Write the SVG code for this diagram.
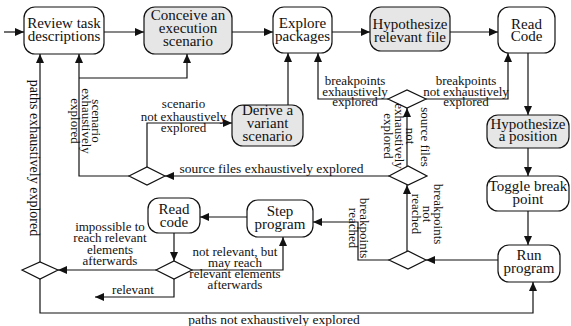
<svg xmlns="http://www.w3.org/2000/svg" width="571" height="326" viewBox="0 0 571 326">
<defs>
<marker id="ah" markerUnits="userSpaceOnUse" markerWidth="10" markerHeight="8" refX="9" refY="4" orient="auto"><path d="M0,0 L9,4 L0,8 Z" fill="#111"/></marker>
<style>
.box{fill:#fff;stroke:#111;stroke-width:1.2}
.gray{fill:#e6e6e6}
.dia{fill:#fff;stroke:#111;stroke-width:1.2}
.nt{font-family:"Liberation Serif","Times New Roman",serif;font-size:15px;fill:#111;text-anchor:middle}
.lb{font-family:"Liberation Serif","Times New Roman",serif;font-size:13px;fill:#111;text-anchor:middle}
.c{fill:none;stroke:#111;stroke-width:1.2;marker-end:url(#ah)}
</style>
</defs>
<rect width="571" height="326" fill="#fff"/>
<g id="connectors">
<path class="c" d="M4,32 H24"/>
<path class="c" d="M104,32 H144"/>
<path class="c" d="M232,32 H273"/>
<path class="c" d="M332,32 H370"/>
<path class="c" d="M450,32 H498"/>
<path class="c" d="M528,53 V115"/>
<path class="c" d="M528,148 V176"/>
<path class="c" d="M528,211 V245"/>
<path class="c" d="M498,260 H426"/>
<path class="c" d="M407,251 V185"/>
<path class="c" d="M407,166 V108"/>
<path class="c" d="M388,99 H318 V53"/>
<path class="c" d="M426,99 H508 V53"/>
<path class="c" d="M389,176 H165"/>
<path class="c" d="M147,167 V123 H232"/>
<path class="c" d="M288,105 V53"/>
<path class="c" d="M129,176 H79 V54"/>
<path class="c" d="M79,78 H187 V54"/>
<path class="c" d="M389,260 H358 V222 H313"/>
<path class="c" d="M247,217 H200"/>
<path class="c" d="M174,233 V261"/>
<path class="c" d="M192,270 H283 V237"/>
<path class="c" d="M156,270 H58"/>
<path class="c" d="M174,279 V297 H95"/>
<path class="c" d="M40,262 V54"/>
<path class="c" d="M40,279 V313 H533 V282"/>
</g>
<g id="review"><rect class="box" x="24" y="7" width="80" height="47" rx="11"/><text class="nt" x="64" y="28">Review task</text><text class="nt" x="64" y="41">descriptions</text></g>
<g id="conceive"><rect class="box gray" x="144" y="7" width="88" height="47" rx="11"/><text class="nt" x="188" y="20">Conceive an</text><text class="nt" x="188" y="33">execution</text><text class="nt" x="188" y="46">scenario</text></g>
<g id="explore"><rect class="box" x="273" y="7" width="59" height="46" rx="11"/><text class="nt" x="302.5" y="28">Explore</text><text class="nt" x="302.5" y="41">packages</text></g>
<g id="hypfile"><rect class="box gray" x="370" y="7" width="80" height="44" rx="11"/><text class="nt" x="410" y="29">Hypothesize</text><text class="nt" x="410" y="42">relevant file</text></g>
<g id="readcode1"><rect class="box" x="498" y="7" width="57" height="46" rx="11"/><text class="nt" x="526.5" y="29">Read</text><text class="nt" x="526.5" y="41">Code</text></g>
<g id="derive"><rect class="box gray" x="232" y="105" width="71" height="41" rx="11"/><text class="nt" x="267.5" y="115">Derive a</text><text class="nt" x="267.5" y="128">variant</text><text class="nt" x="267.5" y="141">scenario</text></g>
<g id="hyppos"><rect class="box gray" x="487" y="115" width="82" height="33" rx="11"/><text class="nt" x="528" y="129">Hypothesize</text><text class="nt" x="528" y="141">a position</text></g>
<g id="toggle"><rect class="box" x="487" y="176" width="82" height="35" rx="11"/><text class="nt" x="528" y="191">Toggle break</text><text class="nt" x="528" y="204">point</text></g>
<g id="run"><rect class="box" x="498" y="245" width="62" height="37" rx="11"/><text class="nt" x="529" y="260">Run</text><text class="nt" x="529" y="273">program</text></g>
<g id="step"><rect class="box" x="247" y="200" width="66" height="37" rx="11"/><text class="nt" x="280" y="216">Step</text><text class="nt" x="280" y="229">program</text></g>
<g id="readcode2"><rect class="box" x="148" y="198" width="52" height="35" rx="11"/><text class="nt" x="174" y="214">Read</text><text class="nt" x="174" y="227">code</text></g>
<g id="d-scenario"><path class="dia" d="M129,176 L147,167 L165,176 L147,185 Z"/></g>
<g id="d-bp"><path class="dia" d="M388,99 L407,90 L426,99 L407,108 Z"/></g>
<g id="d-src"><path class="dia" d="M389,176 L408,166 L427,176 L408,185 Z"/></g>
<g id="d-reached"><path class="dia" d="M389,260 L408,251 L426,260 L408,269 Z"/></g>
<g id="d-relevant"><path class="dia" d="M156,270 L174,261 L192,270 L174,279 Z"/></g>
<g id="d-paths"><path class="dia" d="M22,270 L40,262 L58,270 L40,279 Z"/></g>
<g id="labels">
<text class="lb" x="183.5" y="108">scenario</text><text class="lb" x="183.5" y="121">not exhaustively</text><text class="lb" x="183.5" y="132">explored</text>
<text class="lb" x="271.5" y="173" style="font-size:13.5px">source files exhaustively explored</text>
<text class="lb" x="355" y="85">breakpoints</text><text class="lb" x="355" y="96">exhaustively</text><text class="lb" x="355" y="106">explored</text>
<text class="lb" x="466" y="85">breakpoints</text><text class="lb" x="466" y="96">not exhaustively</text><text class="lb" x="466" y="106">explored</text>
<text class="lb" transform="translate(29.5,158) rotate(90)" style="font-size:14px">paths exhaustively explored</text>
<text class="lb" transform="translate(92,121) rotate(90)">scenario</text>
<text class="lb" transform="translate(81.5,121) rotate(90)">exhaustively</text>
<text class="lb" transform="translate(71,121) rotate(90)">explored</text>
<text class="lb" transform="translate(420.5,137) rotate(90)">source files</text>
<text class="lb" transform="translate(405.5,136) rotate(90)">not</text>
<text class="lb" transform="translate(394.5,136) rotate(90)">exhaustively</text>
<text class="lb" transform="translate(383.5,136) rotate(90)">explored</text>
<text class="lb" transform="translate(433.5,214) rotate(90)">breakpoints</text>
<text class="lb" transform="translate(422.5,214) rotate(90)">not</text>
<text class="lb" transform="translate(411.5,214) rotate(90)">reached</text>
<text class="lb" transform="translate(359.5,228) rotate(90)">breakpoints</text>
<text class="lb" transform="translate(348.5,228) rotate(90)">reached</text>
<text class="lb" x="110" y="231">impossible to</text><text class="lb" x="110" y="242">reach relevant</text><text class="lb" x="110" y="254">elements</text><text class="lb" x="110" y="265">afterwards</text>
<text class="lb" x="235" y="256">not relevant, but</text><text class="lb" x="235" y="267">may reach</text><text class="lb" x="235" y="278">relevant elements</text><text class="lb" x="235" y="289">afterwards</text>
<text class="lb" x="133" y="294">relevant</text>
<text class="lb" x="274" y="324" style="font-size:13.5px">paths not exhaustively explored</text>
</g>
</svg>
